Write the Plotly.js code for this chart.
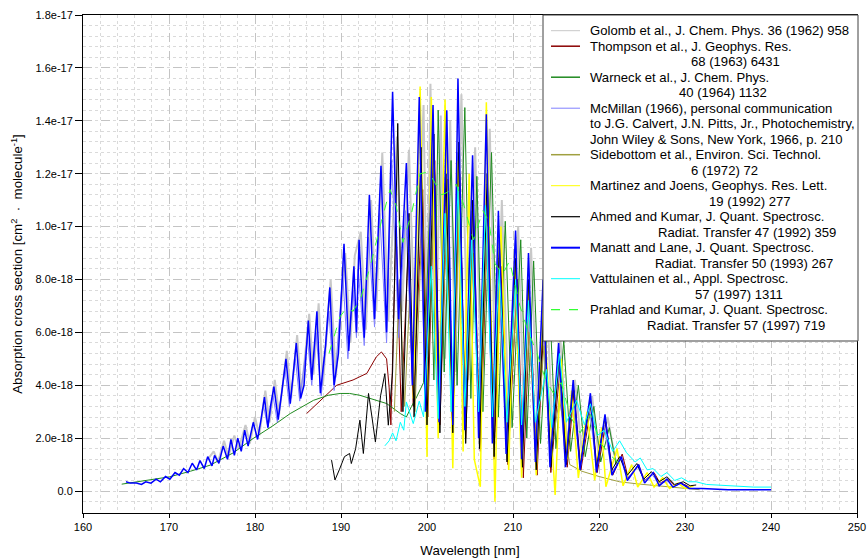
<!DOCTYPE html>
<html>
<head>
<meta charset="utf-8">
<script src="https://cdn.plot.ly/plotly-3.0.1.min.js"></script>
<style>html,body{margin:0;padding:0;background:#fff;}#chart{width:867px;height:558px;}</style>
</head>
<body>
<div id="chart"></div>
<script>
// All cross sections in units of 1e-18 cm^2 molecule^-1
const xTicks = [160,170,180,190,200,210,220,230,240,250];
const yTickVals = [0,2,4,6,8,10,12,14,16,18];
const yTickText = ['0.0','2.0e-18','4.0e-18','6.0e-18','8.0e-18','1.0e-17','1.2e-17','1.4e-17','1.6e-17','1.8e-17'];

const golombX = [174.5,175.2,175.7,176.4,176.9,177.6,178.1,178.9,179.4,180.0,180.5,181.2,181.7,182.3,182.8,183.7,184.2,184.9,185.4,186.3,186.8,187.4,187.9,188.8,189.4,190.5,191.1,191.6,192.3,192.9,193.5,194.1,194.8,195.5,196.5,197.1,197.9,198.6,199.6,200.0,200.4,201.0,201.6,202.1,202.7,203.3,204.0,204.8,205.6,206.3,207.3,208.0,208.7,209.5,210.6,211.3,212.1,212.9,213.8,214.6,215.5,216.3,217.2,218.0,219.2,220.0,221.0,222.0];
const golombY = [1.2,1.5,1.1,1.9,1.3,2.1,1.6,2.5,1.8,2.8,2.1,3.8,2.6,4.2,2.9,5.3,3.5,5.9,3.7,6.7,4.4,7.1,4.0,8.0,4.3,9.0,5.6,8.9,9.8,6.1,11.0,6.8,12.8,6.4,13.4,6.8,12.9,5.8,14.6,6.0,15.4,5.0,14.2,5.0,14.0,4.5,15.0,4.2,13.0,3.8,13.7,3.2,11.0,2.8,10.0,2.6,9.2,2.3,8.2,2.2,5.8,1.8,4.2,1.5,3.6,1.2,2.8,1.0];

const thompsonX = [186.0,187.6,189.5,191.4,193.0,194.1,194.7,195.3,195.6,195.8,196.4,197.0,197.8,198.4,199.5,200.1,200.9,201.5,202.4,203.0,203.8,204.5,205.4,206.2,207.1,207.8,208.6,209.4,210.5,211.2,212.0,212.8,213.6,214.4,215.5,216.3,217.1,217.9,219.1,219.8,220.8,221.6,222.7,223.4,224.6,225.3,226.4,227.1,228.0,228.8,229.6,230.5];
const thompsonY = [2.93,3.43,4.0,4.2,4.45,5.07,5.26,5.0,3.9,2.5,10.0,3.0,9.0,3.2,11.4,2.8,12.5,2.5,11.8,2.4,12.0,2.0,10.5,1.5,11.0,1.2,8.5,1.0,8.0,0.5,7.0,0.6,6.5,0.7,4.8,0.9,3.8,0.8,3.3,0.7,2.6,0.6,1.4,0.5,1.0,0.4,0.7,0.3,0.45,0.2,0.3,0.15];

const warneckX = [164.5,167.0,170.1,172.5,174.8,177.5,179.8,182.0,184.1,186.8,188.5,189.9,191.0,192.2,193.4,195.3,196.9,197.6,198.2,198.8,199.6,200.3,200.8,201.3,202.0,202.8,203.5,204.4,205.1,205.8,206.5,207.5,208.3,209.1,209.9,210.9,211.6,212.4,213.2,214.2,215.0,215.9,216.7,217.6,218.4,219.4,220.2,221.2,222.0];
const warneckY = [0.26,0.38,0.54,0.75,0.98,1.45,1.99,2.45,2.93,3.43,3.62,3.69,3.69,3.62,3.5,3.31,2.93,2.8,3.2,3.56,4.1,10.5,4.2,14.4,4.5,12.5,4.0,14.5,3.5,11.9,3.0,12.8,2.8,10.2,2.4,9.5,2.0,8.7,1.8,7.5,1.6,5.7,1.5,4.0,1.3,3.2,1.1,2.4,1.0];

const mcmillanX = [181.0,181.5,182.1,182.6,183.5,184.0,184.7,185.2,186.1,186.6,187.1,187.7,188.6,189.2,190.2,190.8,191.4,191.8,192.0,192.7,193.2,193.9,194.5,195.3,195.9,196.7,197.5,198.3,199.0,199.8,200.6,201.4,202.2,203.0,203.5,204.4,205.2,206.0,206.8,207.6,208.2,209.2,210.2,211.0,211.7,212.6,213.4,214.3,215.2,216.1,216.9,217.8,218.9,219.7,220.6,221.5,222.5,223.3,224.5,225.3,226.2,227.0,228.0];
const mcmillanY = [3.2,2.4,3.6,2.6,4.6,3.2,5.0,3.4,5.8,4.0,6.0,3.6,6.8,3.8,8.2,5.0,7.6,5.8,8.4,5.5,9.6,6.2,10.5,5.6,12.5,5.8,10.6,4.5,12.4,4.0,12.0,3.6,12.0,3.8,12.8,3.2,10.6,2.8,11.6,2.4,8.8,2.0,8.2,1.8,7.4,1.6,6.6,1.4,4.7,1.2,3.5,1.0,3.1,0.9,2.5,0.7,1.2,0.5,0.9,0.4,0.6,0.3,0.35];

const sidebottomX = [196.2,196.8,197.4,198.0,198.6,199.4,200.0,200.8,201.5,202.3,203.0,203.8,204.5,205.4,206.1,207.0,207.7,208.5,209.3,210.4,211.1,211.9,212.7,213.6,214.4,215.4,216.6,218.0,220.0,222.4,224.5,227.1,229.0,231.7];
const sidebottomY = [3.0,8.0,3.2,7.5,3.0,10.0,3.2,11.0,3.0,10.5,2.8,11.0,2.5,9.0,2.2,10.0,2.0,7.5,1.8,7.0,1.6,6.0,1.5,5.5,1.4,3.5,1.0,0.75,0.55,0.35,0.27,0.19,0.13,0.05];

const martinezX = [198.4,199.2,200.0,200.5,201.3,202.1,203.0,203.6,204.2,204.9,205.5,206.2,206.9,207.9,208.6,209.5,210.2,211.0,211.8,212.7,213.5,214.9,215.6,216.3,216.8,217.6,218.6,219.5,220.3,220.8,222.1,222.8,223.8,224.5,225.6,226.4,227.4,228.2,229.2,230.0,231.0];
const martinezY = [3.5,15.3,1.29,14.9,2.0,14.8,0.86,12.5,1.5,12.0,1.2,0.16,14.7,-0.4,10.0,0.8,9.0,0.5,8.0,0.6,7.0,-0.15,5.0,1.2,3.8,0.5,3.0,0.4,2.4,0.16,1.6,0.2,1.0,0.15,0.7,0.15,0.5,0.1,0.3,0.1,0.2];

const ahmedX = [188.9,189.3,189.8,190.4,191.0,191.2,191.7,192.2,192.6,193.2,193.6,194.0,194.6,195.1,195.5,196.0,196.6,197.2,197.9,198.5,199.3,200.0,200.8,201.5,202.2,203.0,203.7,204.5,205.3,206.1,207.0,207.8,208.4,209.3,210.3,211.1,211.8,212.7,213.6,214.4,215.4,216.2,217.0,217.8,219.0,219.7,220.7,221.5,222.4,223.3,224.4,225.2,226.1,227.0,227.9,228.8,229.8,230.6,231.3];
const ahmedY = [1.17,0.42,0.8,1.3,1.42,1.04,1.6,2.68,1.42,3.69,2.8,1.86,3.6,4.44,2.49,4.5,13.9,3.0,10.5,2.8,13.0,2.5,13.5,2.2,12.0,2.2,13.2,1.8,11.0,1.6,12.0,1.3,9.5,1.1,8.8,0.9,8.0,0.8,7.0,0.9,5.2,1.0,4.0,0.9,3.5,0.9,2.8,0.8,1.3,0.6,1.04,0.45,0.73,0.35,0.54,0.25,0.35,0.2,0.23];

const manattX = [165.0,165.5,166.2,166.8,167.3,167.9,168.5,169.0,169.6,170.1,170.7,171.2,171.7,172.2,172.7,173.2,173.6,174.1,174.5,175.0,175.3,175.8,176.3,176.8,177.2,177.6,178.0,178.4,178.8,179.2,179.8,180.3,180.7,181.1,181.5,181.8,182.2,182.7,183.1,183.6,184.1,184.4,184.8,185.3,185.7,186.2,186.6,187.2,187.6,188.2,188.7,189.2,189.7,190.35,190.9,191.5,191.8,192.1,192.7,193.3,193.9,194.65,195.3,196.0,196.7,197.6,198.3,199.1,199.8,200.7,201.4,202.3,203.0,203.6,204.4,205.3,206.0,206.9,207.6,208.3,209.2,210.3,211.0,211.8,212.6,213.5,214.3,215.3,216.1,217.0,217.8,219.0,219.7,220.7,221.5,222.6,223.3,224.6,225.3,226.3,227.0,227.9,228.6,229.5,230.5,232.0,235.0,240.0];
const manattY = [0.35,0.3,0.3,0.25,0.35,0.3,0.45,0.35,0.55,0.45,0.7,0.6,0.85,0.7,1.05,0.8,1.15,0.85,1.3,0.95,1.35,1.05,1.7,1.2,1.95,1.35,2.0,1.5,2.3,1.7,2.6,1.95,2.7,3.55,2.4,3.2,3.95,2.7,3.7,5.0,3.3,4.2,5.6,3.5,4.0,6.45,4.2,6.8,3.7,5.5,7.7,4.0,5.2,9.35,5.3,8.5,6.0,9.5,5.8,11.2,6.5,12.3,6.0,15.1,6.5,12.4,4.0,14.9,3.0,14.6,2.6,14.4,2.5,15.6,2.3,12.7,2.0,14.25,1.8,10.6,1.4,9.85,1.2,9.0,1.1,8.0,0.9,5.6,0.9,4.2,0.8,3.7,0.7,2.9,0.6,1.3,0.4,1.0,0.3,0.7,0.2,0.45,0.15,0.3,0.1,0.1,0.05,0.05];

const vattX = [195.1,195.6,196.0,196.4,196.9,197.3,197.6,198.4,199.1,199.6,200.5,201.3,202.1,202.8,203.6,204.4,205.2,206.0,206.8,207.6,208.4,209.3,210.3,211.0,211.8,212.6,213.9,214.5,215.4,216.2,217.4,218.3,219.0,219.8,220.6,221.6,222.4,223.2,224.2,224.8,225.6,226.3,227.2,227.9,228.8,229.6,230.4,231.3,232.5,235.0,238.0,240.0];
const vattY = [1.71,1.9,2.2,1.9,2.6,2.3,3.37,2.55,3.4,2.8,8.5,2.74,10.5,3.0,11.5,3.2,9.5,3.0,10.8,2.8,8.4,2.6,8.0,2.5,7.2,2.6,4.6,2.4,5.2,2.6,3.43,2.5,3.3,2.1,2.3,1.5,1.9,1.45,1.1,1.25,0.8,0.85,0.55,0.7,0.4,0.5,0.35,0.35,0.25,0.2,0.15,0.15];

const prahladX = [188.6,189.9,190.6,191.4,192.3,193.4,194.7,195.7,196.4,197.2,198.2,199.2,200.0,200.5,201.7,202.4,203.4,204.3,205.4,206.5,207.2,207.9,208.8,209.6,210.8,211.8,212.8,213.8,214.7,215.6,216.7,217.8,219.0,220.2,221.5,222.5];
const prahladY = [5.2,6.6,6.9,6.8,7.3,8.5,10.2,11.4,10.8,9.4,10.5,12.0,12.05,11.9,11.2,11.3,11.6,10.8,9.5,10.6,10.2,8.6,8.2,8.7,7.0,6.0,5.2,4.2,3.7,4.1,2.8,2.2,2.9,1.8,1.3,1.0];

// legend text, one entry per reference (lines of each entry)
const legendTexts = [
  ['Golomb et al., J. Chem. Phys. 36 (1962) 958'],
  ['Thompson et al., J. Geophys. Res.', '68 (1963) 6431'],
  ['Warneck et al., J. Chem. Phys.', '40 (1964) 1132'],
  ['McMillan (1966), personal communication', 'to J.G. Calvert, J.N. Pitts, Jr., Photochemistry,', 'John Wiley &amp; Sons, New York, 1966, p. 210'],
  ['Sidebottom et al., Environ. Sci. Technol.', '6 (1972) 72'],
  ['Martinez and Joens, Geophys. Res. Lett.', '19 (1992) 277'],
  ['Ahmed and Kumar, J. Quant. Spectrosc.', 'Radiat. Transfer 47 (1992) 359'],
  ['Manatt and Lane, J. Quant. Spectrosc.', 'Radiat. Transfer 50 (1993) 267'],
  ['Vattulainen et al., Appl. Spectrosc.', '57 (1997) 1311'],
  ['Prahlad and Kumar, J. Quant. Spectrosc.', 'Radiat. Transfer 57 (1997) 719']
];
// indent (px) of the continuation lines, per entry
const legendIndent = [0, 100.7, 89.3, 0, 100.7, 119.3, 68.3, 65, 105, 57.3];

const series = [
  {x: golombX, y: golombY, color: '#c8c8c8', width: 2, lw: 1},
  {x: thompsonX, y: thompsonY, color: '#8b0000', width: 1, lw: 1.5},
  {x: warneckX, y: warneckY, color: '#1f8a1f', width: 1, lw: 1.5},
  {x: mcmillanX, y: mcmillanY, color: '#8080ff', width: 1, lw: 1},
  {x: sidebottomX, y: sidebottomY, color: '#a0a040', width: 1, lw: 1.5},
  {x: martinezX, y: martinezY, color: '#ffff00', width: 1.5, lw: 1},
  {x: ahmedX, y: ahmedY, color: '#000000', width: 1, lw: 1.2},
  {x: manattX, y: manattY, color: '#0000ff', width: 1.5, lw: 2},
  {x: vattX, y: vattY, color: '#00ffff', width: 1, lw: 1},
  {x: prahladX, y: prahladY, color: '#33ff33', width: 1, lw: 1.2, dash: 'dash'}
];

const data = series.map((s, i) => ({
  x: s.x, y: s.y, type: 'scatter', mode: 'lines', showlegend: false,
  name: legendTexts[i].join(' '),
  line: {color: s.color, width: s.width, dash: s.dash || 'solid'}
}));

// pixel -> paper helpers (plot area: x 83..857, y 15..513)
const PL = 83, PW = 774, PT = 15, PH = 498;
const px = v => (v - PL) / PW;
const py = v => (PT + PH - v) / PH;

const font = 'Liberation Sans, Arial, sans-serif';
const shapes = [{type: 'rect', xref: 'paper', yref: 'paper', layer: 'above',
  x0: px(543), x1: px(858), y0: py(15), y1: py(341),
  fillcolor: '#ffffff', line: {color: '#404040', width: 1}}];
const annotations = [];
let lineIdx = 0;
legendTexts.forEach((lines, i) => {
  const yFirst = 30.7 + 15.5 * lineIdx;
  shapes.push({type: 'line', xref: 'paper', yref: 'paper', layer: 'above',
    x0: px(551), x1: px(580), y0: py(yFirst), y1: py(yFirst),
    line: {color: series[i].color, width: series[i].lw, dash: series[i].dash || 'solid'}});
  lines.forEach((t, j) => {
    const yc = 30.7 + 15.5 * lineIdx;
    const x0 = 589 + (j > 0 ? legendIndent[i] : 0);
    annotations.push({xref: 'paper', yref: 'paper', x: px(x0), y: py(yc),
      xanchor: 'left', yanchor: 'middle', showarrow: false, text: t, borderpad: 0,
      font: {family: font, size: 13.1, color: '#000'}});
    lineIdx++;
  });
});

const layout = {
  width: 867, height: 558,
  margin: {l: 83, r: 10, t: 15, b: 45},
  paper_bgcolor: '#ffffff', plot_bgcolor: '#ffffff',
  font: {family: font, size: 11, color: '#000'},
  showlegend: false,
  shapes: shapes,
  annotations: annotations,
  xaxis: {range: [160, 250], tickvals: xTicks, ticks: 'outside', ticklen: 4, tickcolor: '#000',
          showline: true, linecolor: '#000', linewidth: 1, mirror: true, zeroline: false,
          showgrid: true, gridcolor: '#c4c4c4', griddash: 'dash', gridwidth: 1,
          minor: {dtick: 2, showgrid: true, gridcolor: '#dadada', griddash: 'dot', ticks: ''},
          tickfont: {size: 11},
          title: {text: 'Wavelength [nm]', font: {size: 13.3}, standoff: 13}},
  yaxis: {range: [-0.83, 18], tickvals: yTickVals, ticktext: yTickText, ticks: 'outside', ticklen: 7, tickcolor: '#000',
          showline: true, linecolor: '#000', linewidth: 1, mirror: true, zeroline: false,
          showgrid: true, gridcolor: '#c4c4c4', griddash: 'dash', gridwidth: 1,
          minor: {tick0: 0, dtick: 0.4, showgrid: true, gridcolor: '#dadada', griddash: 'dot', ticks: ''},
          tickfont: {size: 11},
          title: {text: 'Absorption cross section [cm<sup>2</sup>\u00a0\u00a0·\u00a0\u00a0molecule<sup>-1</sup>]', font: {size: 13.3}, standoff: 9}}
};

Plotly.newPlot('chart', data, layout, {displayModeBar: false, staticPlot: true});
</script>
</body>
</html>
